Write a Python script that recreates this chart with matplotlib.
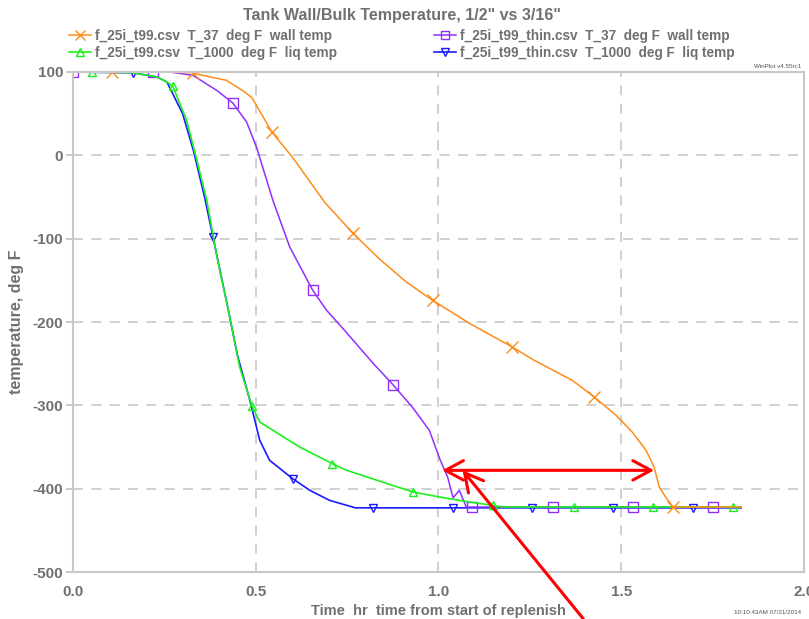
import matplotlib
matplotlib.use('Agg')
import matplotlib.pyplot as plt

plt.rcParams['font.family'] = ['Liberation Sans', 'DejaVu Sans']
plt.rcParams['font.weight'] = 'bold'
plt.rcParams['axes.labelweight'] = 'bold'
plt.rcParams['axes.unicode_minus'] = False

GRAY = '#707070'

# f_25i_t99.csv  T_37 (wall temp, thick wall)
thick_wall_x = [0.0, 0.107, 0.25, 0.328, 0.355, 0.42, 0.47, 0.49, 0.544, 0.60, 0.69, 0.765, 0.84, 0.912,
                0.984, 1.09, 1.202, 1.262, 1.366, 1.426, 1.486, 1.53, 1.568, 1.59, 1.604, 1.623, 1.642,
                1.73, 1.828]
thick_wall_y = [100, 100, 100, 99, 96, 90, 76, 69, 28, -2, -57, -93, -125, -152,
                -174, -203, -230, -246, -270, -290, -312, -332, -354, -374, -398, -411, -422,
                -422, -422]
thick_wall_marks = [1, 3, 8, 11, 14, 16, 19, 26]

# f_25i_t99_thin.csv  T_37 (wall temp, thin wall)
thin_wall_x = [0.0, 0.219, 0.265, 0.328, 0.393, 0.437, 0.475, 0.502, 0.547, 0.593, 0.656, 0.694, 0.749,
               0.82, 0.875, 0.93, 0.975, 1.005, 1.025, 1.04, 1.057, 1.076, 1.093, 1.312, 1.531, 1.75,
               1.828]
thin_wall_y = [100, 100, 100, 96, 78, 63, 40, 10, -54, -110, -162, -186, -213,
               -249, -275, -303, -330, -366, -386, -411, -402, -422, -422, -422, -422, -422,
               -422]
thin_wall_marks = [0, 1, 5, 10, 14, 22, 23, 24, 25]

# f_25i_t99.csv  T_1000 (liquid temp, thick wall)
thick_liq_x = [0.0, 0.052, 0.164, 0.23, 0.257, 0.273, 0.311, 0.339, 0.366, 0.383, 0.393, 0.429, 0.456,
               0.49, 0.511, 0.62, 0.71, 0.749, 0.93, 1.003, 1.085, 1.148, 1.175, 1.37, 1.588, 1.806,
               1.828]
thick_liq_y = [100, 100, 99, 94, 88, 83, 42, -6, -54, -95, -120, -194, -254,
               -301, -320, -350, -370, -378, -404, -410, -416, -420, -422, -422, -422, -422,
               -422]
thick_liq_marks = [1, 5, 13, 16, 18, 21, 23, 24, 25]

# f_25i_t99_thin.csv  T_1000 (liquid temp, thin wall)
thin_liq_x = [0.0, 0.164, 0.23, 0.257, 0.30, 0.33, 0.36, 0.383, 0.42, 0.45, 0.484, 0.511, 0.538,
              0.601, 0.648, 0.702, 0.773, 0.82, 1.04, 1.257, 1.478, 1.697, 1.828]
thin_liq_y = [100, 99, 94, 88, 50, 5, -50, -98, -175, -240, -294, -342, -366,
              -388, -402, -414, -423, -423, -423, -423, -423, -423, -423]
thin_liq_marks = [1, 7, 13, 17, 18, 19, 20, 21]

labels = ['f_25i_t99.csv  T_37  deg F  wall temp',
          'f_25i_t99.csv  T_1000  deg F  liq temp',
          'f_25i_t99_thin.csv  T_37  deg F  wall temp',
          'f_25i_t99_thin.csv  T_1000  deg F  liq temp']

x_ticks = [0.0, 0.5, 1.0, 1.5, 2.0]
y_ticks = [100, 0, -100, -200, -300, -400, -500]

# double arrow: gap between thin and thick wall reaching liquid temp
span_y = -378
span_x = [1.01, 1.59]
pointer_tip = (1.066, -378)
pointer_tail = (1.396, -556)

fig = plt.figure(figsize=(8.09, 6.19), dpi=100)
ax = fig.add_axes([0.0902, 0.0759, 0.9036, 0.8078])

ax.plot(thin_liq_x, thin_liq_y, color='#1a1aff', lw=1.2, marker='v', ms=6, mfc='none', mew=1,
        markevery=thin_liq_marks, label=labels[3])
ax.plot(thin_wall_x, thin_wall_y, color='#9030ff', lw=1.1, marker='s', ms=6.5, mfc='none', mew=1,
        markevery=thin_wall_marks, label=labels[2])
ax.plot(thick_liq_x, thick_liq_y, color='#1cf01c', lw=1.2, marker='^', ms=6, mfc='none', mew=1,
        markevery=thick_liq_marks, label=labels[1])
ax.plot(thick_wall_x, thick_wall_y, color='#ff8c1a', lw=1.1, marker='x', ms=8, mew=1,
        markevery=thick_wall_marks, label=labels[0])

ax.set_xlim(0, 2.0)
ax.set_ylim(-500, 100)
ax.set_xticks(x_ticks)
ax.set_xticklabels(['%.1f' % v for v in x_ticks])
ax.set_yticks(y_ticks)
ax.tick_params(axis='x', length=0, pad=9, labelsize=11, labelcolor=GRAY)
ax.tick_params(axis='y', length=5, width=1.2, color='#c0c0c0', pad=2, labelsize=11, labelcolor=GRAY)
for s in ax.spines.values():
    s.set_color('#c8c8c8')
    s.set_linewidth(1.5)
ax.grid(True, linestyle=(0, (6, 5)), color='#c8c8c8', lw=1.2)

ax.set_xlabel('Time  hr  time from start of replenish', color=GRAY, fontsize=10.5, labelpad=4)
ax.set_ylabel('temperature, deg F', color=GRAY, fontsize=11.5, labelpad=6)
fig.text(0.497, 0.975, 'Tank Wall/Bulk Temperature, 1/2" vs 3/16"', ha='center', va='center',
         color=GRAY, fontsize=11.5)

# red annotations
ax.annotate('', xy=(span_x[0], span_y), xytext=(span_x[1], span_y),
            arrowprops=dict(arrowstyle='<->,head_length=0.65,head_width=0.35', color='#ff0000',
                            lw=2.2, mutation_scale=20, shrinkA=0, shrinkB=0))
ax.annotate('', xy=pointer_tip, xytext=pointer_tail, annotation_clip=False,
            arrowprops=dict(arrowstyle='->,head_length=0.65,head_width=0.35', color='#ff0000',
                            lw=2.2, mutation_scale=20, shrinkA=0, shrinkB=0))

# legend in two columns above the plot
h, l = ax.get_legend_handles_labels()
handles = dict(zip(l, h))
leg_kw = dict(frameon=False, fontsize=9.8, handlelength=1.6, handletextpad=0.3, labelspacing=0.2,
              borderpad=0, borderaxespad=0, labelcolor=GRAY, loc='upper left', markerscale=0.9)
fig.legend([handles[labels[0]], handles[labels[1]]], labels[:2],
           bbox_to_anchor=(0.085, 0.953), **leg_kw)
fig.legend([handles[labels[2]], handles[labels[3]]], labels[2:],
           bbox_to_anchor=(0.537, 0.953), **leg_kw)

fig.text(0.99, 0.893, 'WinPlot v4.55rc1', ha='right', va='center', fontsize=4.5,
         color='#505050', fontweight='normal')
fig.text(0.99, 0.006, '10:10:43AM 07/21/2014', ha='right', va='bottom', fontsize=4.5,
         color='#505050', fontweight='normal')

fig.savefig('out.png', dpi=100)
